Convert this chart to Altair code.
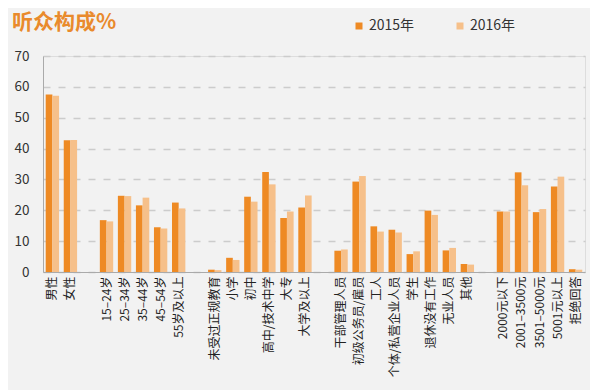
import altair as alt
import pandas as pd

title_text = ["听众构成%"]

cats = ["男性", "女性", " ",
        "15–24岁", "25–34岁", "35–44岁", "45–54岁", "55岁及以上", "  ",
        "未受过正规教育", "小学", "初中", "高中/技术中学", "大专", "大学及以上", "   ",
        "干部管理人员", "初级公务员/雇员", "工人", "个体/私营企业人员", "学生", "退休没有工作", "无业人员", "其他", "    ",
        "2000元以下", "2001–3500元", "3501–5000元", "5001元以上", "拒绝回答"]

real_cats = [c for c in cats if c.strip()]

v2015 = [57.5, 42.7,
         16.8, 24.7, 21.6, 14.5, 22.5,
         0.75, 4.6, 24.4, 32.4, 17.5, 20.9,
         6.9, 29.3, 14.8, 13.7, 5.8, 19.9, 7.0, 2.6,
         19.6, 32.3, 19.4, 27.7, 0.9]
v2016 = [57.1, 42.8,
         16.4, 24.6, 24.1, 14.1, 20.6,
         0.6, 3.9, 22.8, 28.4, 19.6, 24.8,
         7.3, 31.1, 13.1, 12.8, 6.7, 18.5, 7.8, 2.4,
         19.6, 28.1, 20.4, 30.9, 0.75]

years = ["2015年", "2016年"]
colors = ["#EE8A24", "#F6C08A"]

rows = []
for c, a, b in zip(real_cats, v2015, v2016):
    rows.append({"cat": c, "year": years[0], "value": a})
    rows.append({"cat": c, "year": years[1], "value": b})
df = pd.DataFrame(rows)

font = "Noto Sans CJK SC"

bars = alt.Chart(df).mark_bar().encode(
    x=alt.X("cat:N", sort=cats,
            scale=alt.Scale(domain=cats, paddingInner=0.26, paddingOuter=0.15),
            axis=alt.Axis(title=None, labelAngle=-90, ticks=False, labelFontSize=12,
                          labelColor="#222222", labelPadding=4, domainColor="#aaaaaa",
                          labelFont=font)),
    xOffset=alt.XOffset("year:N", sort=years, scale=alt.Scale(paddingInner=0, paddingOuter=0)),
    y=alt.Y("value:Q", scale=alt.Scale(domain=[0, 70]),
            axis=alt.Axis(title=None, values=list(range(0, 71, 10)), grid=True,
                          gridDash=[7, 8], gridColor="#cccccc", gridWidth=1.5,
                          domainColor="#aaaaaa", ticks=False, labelPadding=14,
                          labelFontSize=13.5, labelColor="#333333", labelFont=font)),
    color=alt.Color("year:N", sort=years,
                    scale=alt.Scale(domain=years, range=colors),
                    legend=alt.Legend(title=None, orient="none", legendX=309, legendY=-37,
                                      direction="horizontal", symbolType="square",
                                      symbolSize=49, symbolStrokeWidth=0,
                                      labelFontSize=14, labelColor="#333333",
                                      labelFont=font, columnPadding=38, labelOffset=3)),
)

title = alt.Chart(pd.DataFrame({"t": title_text})).mark_text(
    align="left", baseline="top", fontSize=21, fontWeight="bold", color="#E98A2C", font=font
).encode(x=alt.value(-31), y=alt.value(-44), text="t:N")

chart = alt.layer(bars, title).properties(
    width=542,
    height=216,
    autosize=alt.AutoSizeParams(type="none"),
    padding={"left": 35, "top": 48, "right": 5, "bottom": 118},
    background="#F2F2F2",
).configure_view(stroke=None).configure(font=font)

chart.save("out.html", embed_options={"renderer": "svg", "actions": False})
